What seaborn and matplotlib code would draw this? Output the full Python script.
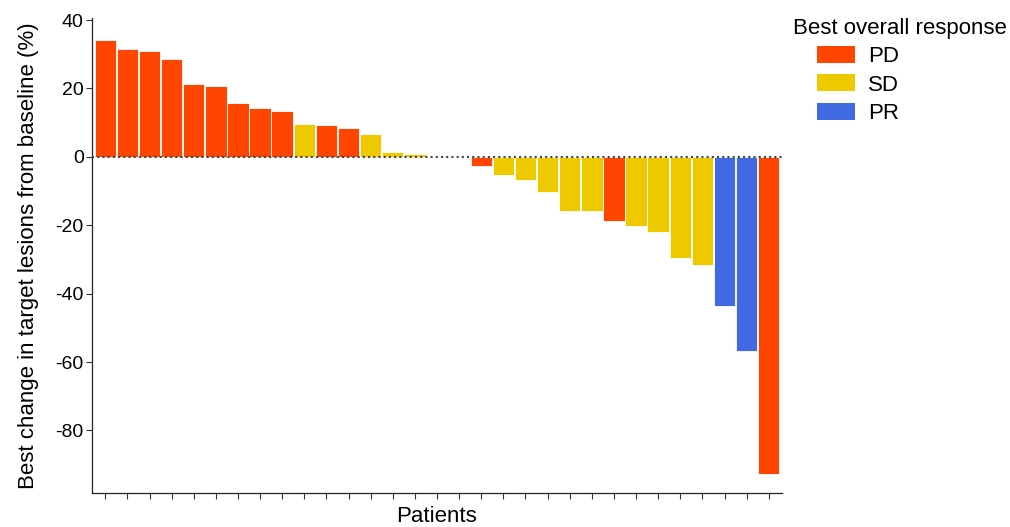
import numpy as np
import pandas as pd
import matplotlib
matplotlib.use("Agg")
import matplotlib.pyplot as plt
import seaborn as sns

# best % change per patient, sorted as in the waterfall
patients = [str(i) for i in range(1, 32)]
change = [34.2, 31.5, 31.0, 28.5, 21.3, 20.8, 15.7, 14.3, 13.4, 9.5,
          9.3, 8.5, 6.7, 1.5, 0.9, 0.0, 0.0, -2.8, -5.2, -6.8,
          -10.3, -15.7, -15.7, -18.7, -20.3, -22.0, -29.5, -31.7, -43.5, -56.8,
          -92.6]
response = ["PD", "PD", "PD", "PD", "PD", "PD", "PD", "PD", "PD", "SD",
            "PD", "PD", "SD", "SD", "SD", "SD", "SD", "PD", "SD", "SD",
            "SD", "SD", "SD", "PD", "SD", "SD", "SD", "SD", "PR", "PR",
            "PD"]
resp_order = ["PD", "SD", "PR"]
resp_colors = {"PD": "#FF4500", "SD": "#EEC900", "PR": "#4169E1"}
y_ticks = [40, 20, 0, -20, -40, -60, -80]

df = pd.DataFrame({"patient": patients, "change": change, "response": response})

sns.set_style("white")
plt.rcParams["font.family"] = ["Liberation Sans", "DejaVu Sans"]
plt.rcParams["text.color"] = "black"
plt.rcParams["axes.labelcolor"] = "black"
plt.rcParams["xtick.color"] = "black"
plt.rcParams["ytick.color"] = "black"

fig = plt.figure(figsize=(10.1, 5.27), dpi=100)
ax = fig.add_axes([92 / 1010, 34 / 527, 690 / 1010, 475 / 527])

sns.barplot(data=df, x="patient", y="change", hue="response", order=patients,
            hue_order=resp_order, palette=resp_colors, dodge=False, width=0.97,
            edgecolor="#ffffff", linewidth=0.6, saturation=1, ax=ax)

ax.axhline(0, color="#444444", linestyle=(0, (1, 1.5)), linewidth=1.5, zorder=5)

ax.set_xlim(-0.6, 30.6)
ax.set_ylim(-98.3, 40.6)
ax.set_yticks(y_ticks)
ax.set_yticklabels([str(t) for t in y_ticks], fontsize=14)
ax.set_xticks(range(len(patients)))
ax.set_xticklabels([])

for s in ["top", "right"]:
    ax.spines[s].set_visible(False)
for s in ["left", "bottom"]:
    ax.spines[s].set_color("#222222")
    ax.spines[s].set_linewidth(0.9)
ax.tick_params(axis="both", direction="out", length=4, width=0.8, color="#333333",
               left=True, bottom=True, pad=2)

ax.set_xlabel("Patients", fontsize=16, labelpad=3)
ax.set_ylabel("Best change in target lesions from baseline (%)", fontsize=16, labelpad=12)

# legend: title flush left, keys indented below it
fig.text(793 / 1010, 1 - 18 / 527, "Best overall response", fontsize=16,
         ha="left", va="top")
handles, labels = ax.get_legend_handles_labels()
ax.legend(handles, labels, fontsize=16,
          loc="upper left", bbox_to_anchor=(817 / 1010, 1 - 46 / 527),
          bbox_transform=fig.transFigure, frameon=False,
          handlelength=1.7, handleheight=0.8, labelspacing=0.32, handletextpad=0.6,
          borderpad=0, borderaxespad=0)
leg = ax.get_legend()
for h in leg.legend_handles:
    h.set_edgecolor("none")

fig.savefig("out.png", dpi=100)
